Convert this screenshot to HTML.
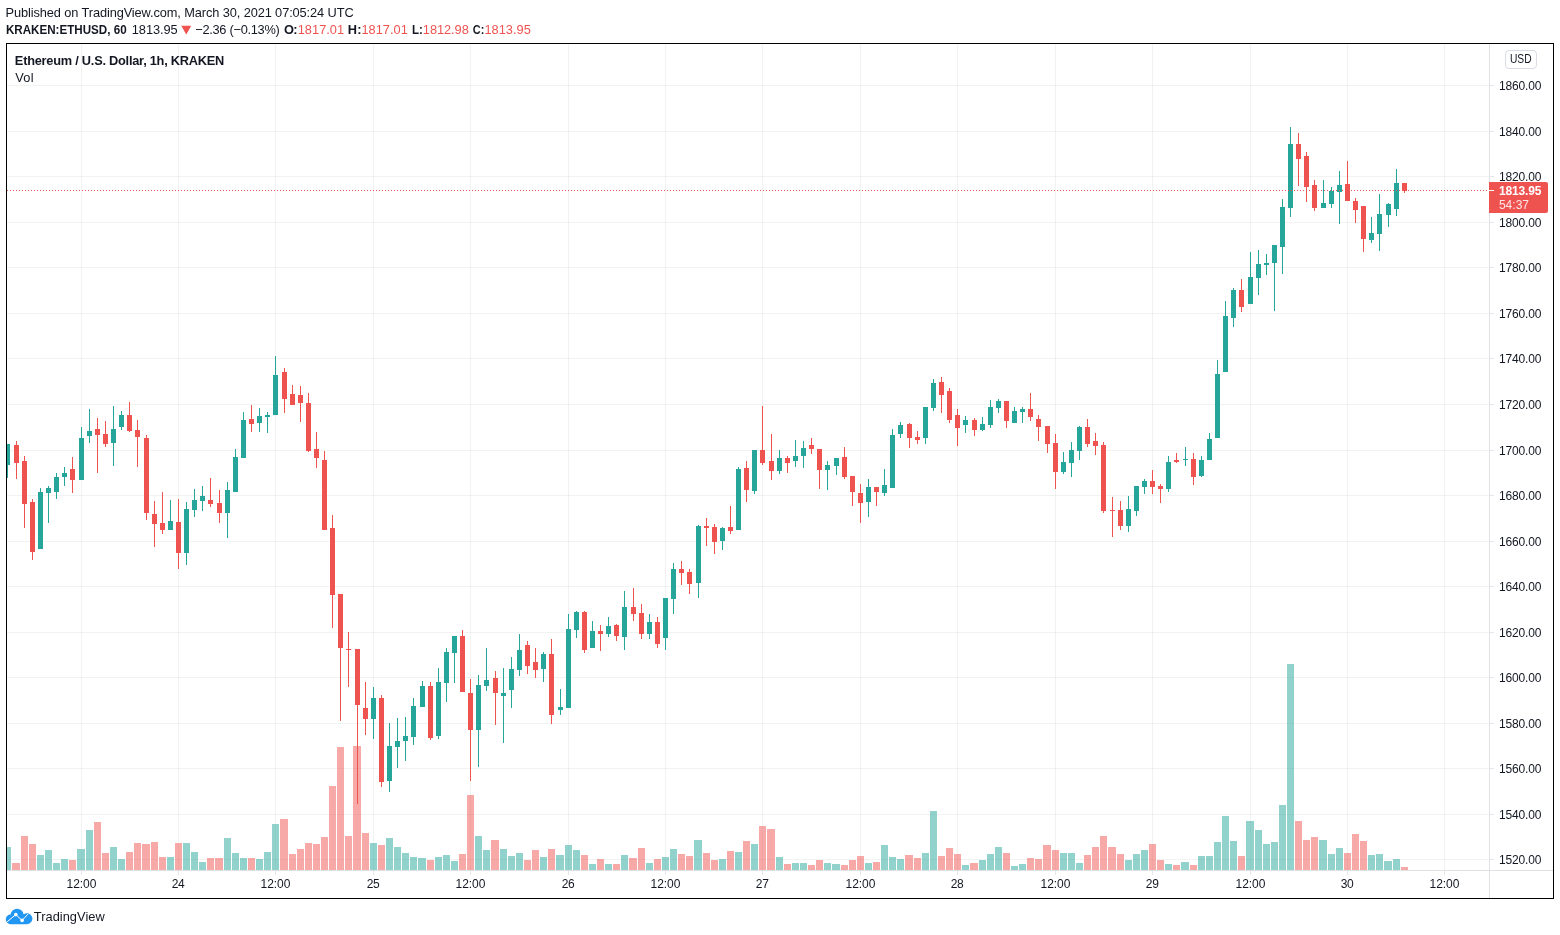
<!DOCTYPE html>
<html><head><meta charset="utf-8"><title>ETHUSD</title>
<style>
html,body{margin:0;padding:0;background:#fff;}
body{width:1560px;height:935px;position:relative;overflow:hidden;font-family:"Liberation Sans",sans-serif;}
.ch{position:absolute;left:0;top:0;}
text{font-family:"Liberation Sans",sans-serif;white-space:pre;}
</style></head><body>
<svg class="ch" width="1560" height="935" viewBox="0 0 1560 935" shape-rendering="crispEdges">
<path d="M81.5 44V870M178.5 44V870M275.5 44V870M373.5 44V870M470.5 44V870M568.5 44V870M665.5 44V870M762.5 44V870M860.5 44V870M957.5 44V870M1055.5 44V870M1152.5 44V870M1250.5 44V870M1347.5 44V870M1444.5 44V870" stroke="#14281e" stroke-opacity="0.058" stroke-width="1" fill="none"/>
<path d="M7 85.5H1489M7 131.5H1489M7 176.5H1489M7 222.5H1489M7 267.5H1489M7 313.5H1489M7 358.5H1489M7 404.5H1489M7 450.5H1489M7 495.5H1489M7 541.5H1489M7 586.5H1489M7 632.5H1489M7 677.5H1489M7 723.5H1489M7 768.5H1489M7 814.5H1489M7 859.5H1489" stroke="#14281e" stroke-opacity="0.058" stroke-width="1" fill="none"/>
<path d="M7 847H11V870H7zM37 855H44V870H37zM45 850H52V870H45zM53 863H60V870H53zM61 859H68V870H61zM77 849H85V870H77zM86 830H93V870H86zM110 847H117V870H110zM118 859H125V870H118zM167 857H174V870H167zM183 843H190V870H183zM191 852H198V870H191zM199 862H206V870H199zM224 838H231V870H224zM232 853H239V870H232zM240 858H247V870H240zM256 859H263V870H256zM264 852H271V870H264zM272 824H279V870H272zM370 843H377V870H370zM386 838H393V870H386zM394 847H401V870H394zM402 853H409V870H402zM410 857H417V870H410zM418 858H426V870H418zM435 857H442V870H435zM443 855H450V870H443zM451 861H458V870H451zM475 836H482V870H475zM483 850H490V870H483zM500 849H507V870H500zM508 856H515V870H508zM516 853H523V870H516zM540 857H547V870H540zM556 855H564V870H556zM565 845H572V870H565zM573 850H580V870H573zM589 864H596V870H589zM605 864H612V870H605zM621 855H628V870H621zM646 863H653V870H646zM662 857H669V870H662zM670 849H677V870H670zM694 840H702V870H694zM719 859H726V870H719zM735 852H742V870H735zM751 844H758V870H751zM776 857H783V870H776zM792 863H799V870H792zM800 863H807V870H800zM824 863H831V870H824zM832 864H840V870H832zM865 863H872V870H865zM881 845H888V870H881zM889 857H896V870H889zM897 859H904V870H897zM922 853H929V870H922zM930 811H937V870H930zM962 865H969V870H962zM979 860H986V870H979zM987 854H994V870H987zM995 847H1002V870H995zM1011 866H1018V870H1011zM1019 864H1026V870H1019zM1060 853H1067V870H1060zM1068 853H1075V870H1068zM1076 863H1083V870H1076zM1125 860H1132V870H1125zM1133 854H1140V870H1133zM1141 850H1148V870H1141zM1165 864H1172V870H1165zM1181 862H1189V870H1181zM1198 856H1205V870H1198zM1206 856H1213V870H1206zM1214 842H1221V870H1214zM1222 816H1229V870H1222zM1230 841H1237V870H1230zM1246 821H1254V870H1246zM1255 830H1262V870H1255zM1263 844H1270V870H1263zM1271 842H1278V870H1271zM1279 805H1286V870H1279zM1287 664H1294V870H1287zM1319 840H1327V870H1319zM1328 854H1335V870H1328zM1336 848H1343V870H1336zM1368 855H1375V870H1368zM1376 854H1383V870H1376zM1384 861H1392V870H1384zM1393 859H1400V870H1393z" fill="#26a69a" fill-opacity="0.5"/>
<path d="M12 863H20V870H12zM21 836H28V870H21zM29 844H36V870H29zM69 860H76V870H69zM94 822H101V870H94zM102 853H109V870H102zM126 852H133V870H126zM134 843H141V870H134zM142 844H150V870H142zM151 842H158V870H151zM159 857H166V870H159zM175 843H182V870H175zM207 858H214V870H207zM215 858H223V870H215zM248 858H255V870H248zM280 819H288V870H280zM289 854H296V870H289zM297 849H304V870H297zM305 843H312V870H305zM313 844H320V870H313zM321 837H328V870H321zM329 786H336V870H329zM337 747H344V870H337zM345 836H352V870H345zM353 746H361V870H353zM362 833H369V870H362zM378 845H385V870H378zM427 860H434V870H427zM459 854H466V870H459zM467 795H474V870H467zM491 840H499V870H491zM524 860H531V870H524zM532 850H539V870H532zM548 849H555V870H548zM581 855H588V870H581zM597 859H604V870H597zM613 864H620V870H613zM629 858H637V870H629zM638 848H645V870H638zM654 859H661V870H654zM678 854H685V870H678zM686 856H693V870H686zM703 853H710V870H703zM711 860H718V870H711zM727 851H734V870H727zM743 841H750V870H743zM759 826H766V870H759zM767 829H775V870H767zM784 864H791V870H784zM808 865H815V870H808zM816 860H823V870H816zM841 865H848V870H841zM849 860H856V870H849zM857 856H864V870H857zM873 862H880V870H873zM905 855H913V870H905zM914 858H921V870H914zM938 856H945V870H938zM946 848H953V870H946zM954 854H961V870H954zM970 863H978V870H970zM1003 853H1010V870H1003zM1027 858H1034V870H1027zM1035 859H1042V870H1035zM1043 845H1051V870H1043zM1052 850H1059V870H1052zM1084 855H1091V870H1084zM1092 847H1099V870H1092zM1100 836H1107V870H1100zM1108 847H1116V870H1108zM1117 854H1124V870H1117zM1149 844H1156V870H1149zM1157 860H1164V870H1157zM1173 865H1180V870H1173zM1190 865H1197V870H1190zM1238 856H1245V870H1238zM1295 821H1302V870H1295zM1303 840H1310V870H1303zM1311 837H1318V870H1311zM1344 853H1351V870H1344zM1352 834H1359V870H1352zM1360 841H1367V870H1360zM1401 867H1408V870H1401z" fill="#ef5350" fill-opacity="0.5"/>
<path d="M7 870.5H1553M1489.5 44V898" stroke="#dfe1e5" stroke-width="1" fill="none"/>
<path d="M1490 85.5H1494M1490 131.5H1494M1490 176.5H1494M1490 222.5H1494M1490 267.5H1494M1490 313.5H1494M1490 358.5H1494M1490 404.5H1494M1490 450.5H1494M1490 495.5H1494M1490 541.5H1494M1490 586.5H1494M1490 632.5H1494M1490 677.5H1494M1490 723.5H1494M1490 768.5H1494M1490 814.5H1494M1490 859.5H1494M81.5 871V875M178.5 871V875M275.5 871V875M373.5 871V875M470.5 871V875M568.5 871V875M665.5 871V875M762.5 871V875M860.5 871V875M957.5 871V875M1055.5 871V875M1152.5 871V875M1250.5 871V875M1347.5 871V875M1444.5 871V875" stroke="#e4e6ea" stroke-width="1" fill="none"/>
<path d="M7 444h1V478h-1zM7 444H10V465H7zM40 488h1V549h-1zM38 492H43V549H38zM48 486h1V523h-1zM46 488H51V493H46zM56 473h1V499h-1zM54 477H59V492H54zM64 467h1V486h-1zM62 473H67V477H62zM81 427h1V480h-1zM79 438H84V480H79zM89 409h1V443h-1zM87 431H92V436H87zM113 406h1V466h-1zM111 429H116V443H111zM121 411h1V430h-1zM119 415H124V427H119zM170 500h1V530h-1zM168 521H173V530H168zM186 502h1V565h-1zM184 509H189V553H184zM194 489h1V517h-1zM192 500H197V510H192zM202 486h1V511h-1zM200 496H205V501H200zM227 482h1V538h-1zM225 490H230V513H225zM235 449h1V492h-1zM233 457H238V492H233zM243 412h1V458h-1zM241 420H246V458H241zM259 408h1V432h-1zM257 416H262V423H257zM267 412h1V433h-1zM265 415H270V417H265zM275 356h1V415h-1zM273 375H278V415H273zM373 687h1V739h-1zM371 698H376V719H371zM389 723h1V792h-1zM387 746H392V781H387zM397 718h1V768h-1zM395 741H400V747H395zM405 717h1V761h-1zM403 736H408V741H403zM413 698h1V745h-1zM411 706H416V737H411zM422 681h1V707h-1zM420 686H425V707H420zM438 668h1V739h-1zM436 682H441V736H436zM446 648h1V702h-1zM444 652H449V683H444zM454 636h1V683h-1zM452 636H457V653H452zM478 675h1V767h-1zM476 685H481V730H476zM486 648h1V691h-1zM484 680H489V686H484zM503 668h1V743h-1zM501 693H506V696H501zM511 657h1V708h-1zM509 669H514V690H509zM519 634h1V676h-1zM517 650H522V670H517zM543 652h1V682h-1zM541 654H546V669H541zM560 689h1V715h-1zM558 707H563V710H558zM568 614h1V708h-1zM566 629H571V708H566zM576 611h1V638h-1zM574 612H579V630H574zM592 621h1V648h-1zM590 631H595V648H590zM608 617h1V637h-1zM606 626H611V634H606zM624 591h1V650h-1zM622 607H627V637H622zM649 614h1V639h-1zM647 622H652V634H647zM665 598h1V650h-1zM663 598H668V638H663zM673 563h1V614h-1zM671 569H676V599H671zM698 525h1V598h-1zM696 526H701V583H696zM722 527h1V550h-1zM720 528H725V541H720zM738 467h1V530h-1zM736 469H741V530H736zM754 450h1V494h-1zM752 450H757V491H752zM779 450h1V474h-1zM777 458H782V471H777zM795 440h1V467h-1zM793 456H798V461H793zM803 441h1V468h-1zM801 448H806V456H801zM827 461h1V490h-1zM825 465H830V470H825zM836 458h1V475h-1zM834 458H839V466H834zM868 479h1V517h-1zM866 487H871V502H866zM884 469h1V496h-1zM882 485H887V493H882zM892 429h1V488h-1zM890 435H895V488H890zM900 422h1V438h-1zM898 425H903V434H898zM925 407h1V444h-1zM923 407H928V438H923zM933 379h1V411h-1zM931 383H936V408H931zM965 416h1V433h-1zM963 420H968V425H963zM982 417h1V431h-1zM980 424H985V430H980zM990 400h1V428h-1zM988 407H993V425H988zM998 399h1V413h-1zM996 401H1001V408H996zM1014 407h1V423h-1zM1012 411H1017V423H1012zM1022 407h1V423h-1zM1020 409H1025V412H1020zM1063 452h1V474h-1zM1061 462H1066V472H1061zM1071 442h1V477h-1zM1069 450H1074V463H1069zM1079 426h1V460h-1zM1077 427H1082V451H1077zM1128 496h1V532h-1zM1126 509H1131V526H1126zM1136 486h1V516h-1zM1134 486H1139V511H1134zM1144 479h1V494h-1zM1142 481H1147V487H1142zM1168 456h1V492h-1zM1166 462H1171V489H1166zM1185 447h1V466h-1zM1183 459H1188V460H1183zM1201 456h1V477h-1zM1199 460H1204V476H1199zM1209 433h1V460h-1zM1207 439H1212V460H1207zM1217 360h1V438h-1zM1215 374H1220V438H1215zM1225 301h1V372h-1zM1223 316H1228V372H1223zM1233 288h1V327h-1zM1231 290H1236V318H1231zM1250 252h1V304h-1zM1248 277H1253V304H1248zM1258 250h1V295h-1zM1256 264H1261V278H1256zM1266 254h1V275h-1zM1264 263H1269V265H1264zM1274 245h1V311h-1zM1272 245H1277V263H1272zM1282 199h1V274h-1zM1280 207H1285V247H1280zM1290 127h1V217h-1zM1288 144H1293V208H1288zM1323 180h1V208h-1zM1321 203H1326V208H1321zM1331 187h1V208h-1zM1329 191H1334V204H1329zM1339 171h1V224h-1zM1337 185H1342V192H1337zM1371 217h1V243h-1zM1369 233H1374V240H1369zM1379 194h1V251h-1zM1377 214H1382V234H1377zM1388 203h1V227h-1zM1386 204H1391V215H1386zM1396 169h1V216h-1zM1394 183H1399V209H1394z" fill="#26a69a"/>
<path d="M16 441h1V479h-1zM14 445H19V463H14zM24 456h1V528h-1zM22 461H27V504H22zM32 499h1V560h-1zM30 502H35V552H30zM72 457h1V493h-1zM70 469H75V480H70zM97 418h1V473h-1zM95 429H100V435H95zM105 421h1V447h-1zM103 434H108V444H103zM129 402h1V432h-1zM127 415H132V431H127zM137 420h1V467h-1zM135 430H140V437H135zM146 435h1V520h-1zM144 438H149V513H144zM154 501h1V547h-1zM152 514H157V524H152zM162 492h1V534h-1zM160 523H165V530H160zM178 499h1V569h-1zM176 522H181V553H176zM210 478h1V507h-1zM208 500H213V504H208zM219 490h1V523h-1zM217 503H222V513H217zM251 405h1V432h-1zM249 419H254V424H249zM284 368h1V413h-1zM282 372H287V399H282zM292 385h1V405h-1zM290 394H295V405H290zM300 386h1V422h-1zM298 395H303V403H298zM308 393h1V452h-1zM306 403H311V451H306zM316 432h1V468h-1zM314 449H319V458H314zM324 451h1V530h-1zM322 460H327V530H322zM332 515h1V628h-1zM330 528H335V595H330zM340 594h1V721h-1zM338 594H343V648H338zM348 632h1V687h-1zM346 649H351V650H346zM357 649h1V804h-1zM355 649H360V705H355zM365 682h1V735h-1zM363 708H368V719H363zM381 695h1V787h-1zM379 698H384V782H379zM430 682h1V740h-1zM428 686H433V738H428zM462 630h1V692h-1zM460 636H465V692H460zM470 679h1V781h-1zM468 693H473V730H468zM495 671h1V725h-1zM493 678H498V693H493zM527 641h1V674h-1zM525 645H530V666H525zM535 648h1V678h-1zM533 662H538V670H533zM551 639h1V724h-1zM549 654H554V715H549zM584 611h1V653h-1zM582 612H587V650H582zM600 625h1V651h-1zM598 631H603V634H598zM616 624h1V641h-1zM614 625H619V636H614zM633 588h1V621h-1zM631 607H636V614H631zM641 604h1V639h-1zM639 613H644V634H639zM657 617h1V648h-1zM655 622H660V644H655zM681 561h1V585h-1zM679 569H684V573H679zM689 569h1V594h-1zM687 572H692V584H687zM706 518h1V546h-1zM704 526H709V528H704zM714 524h1V554h-1zM712 527H717V542H712zM730 506h1V534h-1zM728 527H733V531H728zM746 461h1V502h-1zM744 468H749V490H744zM762 406h1V465h-1zM760 450H765V463H760zM771 434h1V480h-1zM769 461H774V471H769zM787 456h1V473h-1zM785 458H790V463H785zM811 438h1V454h-1zM809 445H814V449H809zM819 449h1V489h-1zM817 449H822V470H817zM844 447h1V479h-1zM842 457H847V477H842zM852 476h1V506h-1zM850 476H855V492H850zM860 484h1V523h-1zM858 493H863V503H858zM876 487h1V506h-1zM874 487H879V492H874zM909 423h1V448h-1zM907 424H912V438H907zM917 431h1V444h-1zM915 437H920V440H915zM941 377h1V413h-1zM939 382H944V395H939zM949 388h1V423h-1zM947 391H952V420H947zM957 409h1V446h-1zM955 415H960V428H955zM974 418h1V436h-1zM972 420H977V430H972zM1006 401h1V428h-1zM1004 401H1009V421H1004zM1030 393h1V421h-1zM1028 409H1033V417H1028zM1038 415h1V441h-1zM1036 419H1041V427H1036zM1047 426h1V453h-1zM1045 426H1050V444H1045zM1055 434h1V489h-1zM1053 443H1058V472H1053zM1087 419h1V447h-1zM1085 427H1090V444H1085zM1095 433h1V455h-1zM1093 441H1098V446H1093zM1103 442h1V513h-1zM1101 445H1106V511H1101zM1112 497h1V537h-1zM1110 510H1115V511H1110zM1120 501h1V530h-1zM1118 510H1123V526H1118zM1152 470h1V494h-1zM1150 481H1155V487H1150zM1160 484h1V503h-1zM1158 486H1163V489H1158zM1176 453h1V463h-1zM1174 460H1179V462H1174zM1193 453h1V485h-1zM1191 459H1196V477H1191zM1241 279h1V312h-1zM1239 290H1244V307H1239zM1298 133h1V186h-1zM1296 144H1301V159H1296zM1306 152h1V202h-1zM1304 156H1309V187H1304zM1314 180h1V211h-1zM1312 185H1317V208H1312zM1347 161h1V201h-1zM1345 184H1350V201H1345zM1355 198h1V223h-1zM1353 201H1358V210H1353zM1363 206h1V252h-1zM1361 206H1366V239H1361zM1404 183h1V193h-1zM1402 183H1407V191H1402z" fill="#ef5350"/>
<path d="M7 190.5H1489" stroke="#ef5350" stroke-width="1" stroke-dasharray="1 2" fill="none"/>
<path d="M6.5 43.5H1553.5V898.5H6.5z" stroke="#000" stroke-width="1" fill="none"/>
<path d="M1489 182h57a2 2 0 0 1 2 2v27a2 2 0 0 1-2 2h-57z" fill="#ef5350" shape-rendering="geometricPrecision"/>
<path d="M1489 190.5H1494" stroke="#fff" stroke-width="1" fill="none"/>
<rect x="1505.5" y="50.5" width="31" height="18" rx="3.5" fill="#fff" stroke="#d9dce6" shape-rendering="geometricPrecision"/>
<path d="M181.3 25.7H191.2L186.25 34.6z" fill="#ef5350" shape-rendering="geometricPrecision"/>
</svg>
<svg class="ch" style="will-change:transform" width="1560" height="935" viewBox="0 0 1560 935">
<text x="5.60" y="17.00" font-size="12.8" fill="#131722" textLength="348.03" lengthAdjust="spacing">Published on TradingView.com, March 30, 2021 07:05:24 UTC</text>
<text x="5.92" y="34.10" font-size="12.8" font-weight="bold" fill="#131722" textLength="120.71" lengthAdjust="spacingAndGlyphs">KRAKEN:ETHUSD, 60</text>
<text x="131.80" y="34.10" font-size="12.8" fill="#131722" textLength="45.92" lengthAdjust="spacing">1813.95</text>
<text x="195.20" y="34.10" font-size="12.8" fill="#131722" textLength="84.62" lengthAdjust="spacing">−2.36 (−0.13%)</text>
<text x="283.90" y="34.10" font-size="12.8" font-weight="bold" fill="#131722" textLength="13.72" lengthAdjust="spacing">O:</text>
<text x="297.70" y="34.10" font-size="12.8" fill="#ef5350" textLength="46.42" lengthAdjust="spacing">1817.01</text>
<text x="347.65" y="34.10" font-size="12.8" font-weight="bold" fill="#131722" textLength="13.92" lengthAdjust="spacing">H:</text>
<text x="361.40" y="34.10" font-size="12.8" fill="#ef5350" textLength="46.42" lengthAdjust="spacing">1817.01</text>
<text x="412.02" y="34.10" font-size="12.8" font-weight="bold" fill="#131722" textLength="10.88" lengthAdjust="spacingAndGlyphs">L:</text>
<text x="422.80" y="34.10" font-size="12.8" fill="#ef5350" textLength="46.02" lengthAdjust="spacing">1812.98</text>
<text x="472.77" y="34.10" font-size="12.8" font-weight="bold" fill="#131722" textLength="11.50" lengthAdjust="spacingAndGlyphs">C:</text>
<text x="484.40" y="34.10" font-size="12.8" fill="#ef5350" textLength="46.42" lengthAdjust="spacing">1813.95</text>
<text x="14.85" y="65.20" font-size="12.8" font-weight="bold" fill="#131722" textLength="209.49" lengthAdjust="spacing">Ethereum / U.S. Dollar, 1h, KRAKEN</text>
<text x="15.30" y="81.90" font-size="12.8" fill="#131722" textLength="18.20" lengthAdjust="spacing">Vol</text>
<text x="1499.00" y="89.75" font-size="12" fill="#131722" textLength="42.49" lengthAdjust="spacing">1860.00</text>
<text x="1499.00" y="135.75" font-size="12" fill="#131722" textLength="42.49" lengthAdjust="spacing">1840.00</text>
<text x="1499.00" y="180.75" font-size="12" fill="#131722" textLength="42.49" lengthAdjust="spacing">1820.00</text>
<text x="1499.00" y="226.75" font-size="12" fill="#131722" textLength="42.49" lengthAdjust="spacing">1800.00</text>
<text x="1499.00" y="271.75" font-size="12" fill="#131722" textLength="42.49" lengthAdjust="spacing">1780.00</text>
<text x="1499.00" y="317.75" font-size="12" fill="#131722" textLength="42.49" lengthAdjust="spacing">1760.00</text>
<text x="1499.00" y="362.75" font-size="12" fill="#131722" textLength="42.49" lengthAdjust="spacing">1740.00</text>
<text x="1499.00" y="408.75" font-size="12" fill="#131722" textLength="42.49" lengthAdjust="spacing">1720.00</text>
<text x="1499.00" y="454.75" font-size="12" fill="#131722" textLength="42.49" lengthAdjust="spacing">1700.00</text>
<text x="1499.00" y="499.75" font-size="12" fill="#131722" textLength="42.49" lengthAdjust="spacing">1680.00</text>
<text x="1499.00" y="545.75" font-size="12" fill="#131722" textLength="42.49" lengthAdjust="spacing">1660.00</text>
<text x="1499.00" y="590.75" font-size="12" fill="#131722" textLength="42.49" lengthAdjust="spacing">1640.00</text>
<text x="1499.00" y="636.75" font-size="12" fill="#131722" textLength="42.49" lengthAdjust="spacing">1620.00</text>
<text x="1499.00" y="681.75" font-size="12" fill="#131722" textLength="42.49" lengthAdjust="spacing">1600.00</text>
<text x="1499.00" y="727.75" font-size="12" fill="#131722" textLength="42.49" lengthAdjust="spacing">1580.00</text>
<text x="1499.00" y="772.75" font-size="12" fill="#131722" textLength="42.49" lengthAdjust="spacing">1560.00</text>
<text x="1499.00" y="818.75" font-size="12" fill="#131722" textLength="42.49" lengthAdjust="spacing">1540.00</text>
<text x="1499.00" y="863.75" font-size="12" fill="#131722" textLength="42.49" lengthAdjust="spacing">1520.00</text>
<text x="66.55" y="888.00" font-size="12" fill="#131722" textLength="29.78" lengthAdjust="spacing">12:00</text>
<text x="171.85" y="888.00" font-size="12" fill="#131722" textLength="12.86" lengthAdjust="spacing">24</text>
<text x="260.55" y="888.00" font-size="12" fill="#131722" textLength="29.78" lengthAdjust="spacing">12:00</text>
<text x="366.85" y="888.00" font-size="12" fill="#131722" textLength="12.86" lengthAdjust="spacing">25</text>
<text x="455.55" y="888.00" font-size="12" fill="#131722" textLength="29.78" lengthAdjust="spacing">12:00</text>
<text x="561.85" y="888.00" font-size="12" fill="#131722" textLength="12.86" lengthAdjust="spacing">26</text>
<text x="650.55" y="888.00" font-size="12" fill="#131722" textLength="29.78" lengthAdjust="spacing">12:00</text>
<text x="755.85" y="888.00" font-size="12" fill="#131722" textLength="13.11" lengthAdjust="spacing">27</text>
<text x="845.55" y="888.00" font-size="12" fill="#131722" textLength="29.78" lengthAdjust="spacing">12:00</text>
<text x="950.85" y="888.00" font-size="12" fill="#131722" textLength="12.86" lengthAdjust="spacing">28</text>
<text x="1040.55" y="888.00" font-size="12" fill="#131722" textLength="29.78" lengthAdjust="spacing">12:00</text>
<text x="1145.85" y="888.00" font-size="12" fill="#131722" textLength="13.11" lengthAdjust="spacing">29</text>
<text x="1235.55" y="888.00" font-size="12" fill="#131722" textLength="29.78" lengthAdjust="spacing">12:00</text>
<text x="1340.85" y="888.00" font-size="12" fill="#131722" textLength="12.86" lengthAdjust="spacing">30</text>
<text x="1429.55" y="888.00" font-size="12" fill="#131722" textLength="29.78" lengthAdjust="spacing">12:00</text>
<text x="1509.95" y="62.75" font-size="12" fill="#131722" textLength="21.66" lengthAdjust="spacingAndGlyphs">USD</text>
<text x="1499.05" y="195.00" font-size="12" font-weight="bold" fill="#fff" textLength="42.44" lengthAdjust="spacing">1813.95</text>
<text x="1498.90" y="208.90" font-size="12" fill="#fff" fill-opacity="0.85" textLength="30.13" lengthAdjust="spacing">54:37</text>
<text x="33.75" y="921.00" font-size="12.8" fill="#131722" textLength="70.97" lengthAdjust="spacing">TradingView</text>
</svg>
<svg class="ch" style="left:5px;top:908px" width="29" height="17" viewBox="0 0 29 17"><path d="M5.6 16.2A4.8 4.8 0 0 1 5.5 6.6A6.6 6.6 0 0 1 18.6 6.3A5.5 5.5 0 1 1 22 16.2z" fill="#2196f3"/><path d="M1.6 14.2L10.8 6.6l6.3 5.8 5.9-6.3" stroke="#fff" stroke-width="1" fill="none"/><circle cx="10.8" cy="6.6" r="1.8" fill="#fff"/><circle cx="17.1" cy="12.4" r="1.8" fill="#fff"/></svg>
</body></html>
